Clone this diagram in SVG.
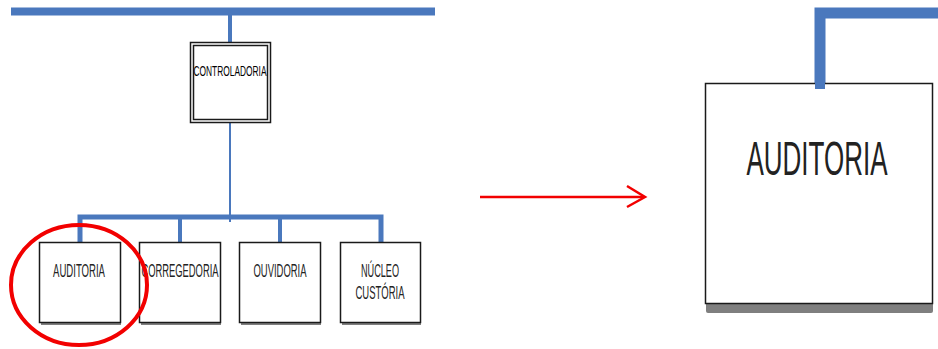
<svg xmlns="http://www.w3.org/2000/svg" width="938" height="349" viewBox="0 0 938 349">
<defs>
<style>
.box{fill:#fff;stroke:#1a1a1a;stroke-width:1.5}
.shadow{fill:#7f7f7f}
.lbl{font-family:"Liberation Sans",Arial,sans-serif;fill:#222;text-anchor:middle}
.blue{stroke:#4a78bd;fill:none;stroke-linecap:butt;stroke-linejoin:miter}
.red{stroke:#f20000;fill:none}
</style>
</defs>
<rect width="938" height="349" fill="#fff"/>
<g id="connectors">
<line class="blue" x1="11" y1="11.5" x2="435" y2="11.5" stroke-width="8"/>
<line class="blue" x1="230" y1="11" x2="230" y2="43" stroke-width="4"/>
<line class="blue" x1="230" y1="123" x2="230" y2="222" stroke-width="2"/>
<polyline class="blue" points="80,243 80,217 381,217 381,243" stroke-width="5"/>
<line class="blue" x1="180" y1="217" x2="180" y2="243" stroke-width="4"/>
<line class="blue" x1="280" y1="217" x2="280" y2="243" stroke-width="4"/>
<polyline class="blue" points="820,89 820,13 938,13" stroke-width="11"/>
<line class="red" x1="480" y1="197" x2="644" y2="197" stroke-width="2.5"/>
<polyline class="red" points="627,186 645,197 627,207" stroke-width="2.5"/>
</g>
<g id="controladoria">
<rect class="box" x="190.5" y="42.5" width="80" height="80"/>
<rect class="box" x="193.5" y="45.5" width="74" height="74" stroke-width="1"/>
<text class="lbl" x="230" y="76" font-size="14" fill="#000" style="fill:#000" textLength="73" lengthAdjust="spacingAndGlyphs">CONTROLADORIA</text>
</g>
<g id="auditoria">
<rect class="shadow" x="41" y="244" width="80" height="81"/>
<rect class="box" x="39.5" y="242.5" width="81" height="80"/>
<text class="lbl" x="79" y="277" font-size="18" textLength="52" lengthAdjust="spacingAndGlyphs">AUDITORIA</text>
</g>
<g id="corregedoria">
<rect class="shadow" x="141" y="244" width="80" height="81"/>
<rect class="box" x="139.5" y="242.5" width="81" height="80"/>
<text class="lbl" x="180" y="277" font-size="18" textLength="77" lengthAdjust="spacingAndGlyphs">CORREGEDORIA</text>
</g>
<g id="ouvidoria">
<rect class="shadow" x="241" y="244" width="80" height="81"/>
<rect class="box" x="239.5" y="242.5" width="81" height="80"/>
<text class="lbl" x="280" y="277" font-size="18" textLength="53" lengthAdjust="spacingAndGlyphs">OUVIDORIA</text>
</g>
<g id="nucleo">
<rect class="shadow" x="342" y="244" width="79" height="81"/>
<rect class="box" x="340.5" y="242.5" width="80" height="80"/>
<text class="lbl" x="380" y="277" font-size="18" textLength="38" lengthAdjust="spacingAndGlyphs">NÚCLEO</text>
<text class="lbl" x="380" y="299" font-size="18" textLength="49" lengthAdjust="spacingAndGlyphs">CUSTÓRIA</text>
</g>
<g id="highlight">
<ellipse class="red" cx="79" cy="285" rx="68" ry="60" stroke-width="4"/>
</g>
<g id="auditoria-zoom">
<rect class="shadow" x="706" y="86" width="227" height="227" rx="2"/>
<rect class="box" x="705.5" y="83.5" width="227" height="220" stroke-width="2"/>
<line class="blue" x1="820" y1="80" x2="820" y2="89" stroke-width="10"/>
<text class="lbl" x="817" y="175" font-size="49" textLength="141" lengthAdjust="spacingAndGlyphs">AUDITORIA</text>
</g>
</svg>
